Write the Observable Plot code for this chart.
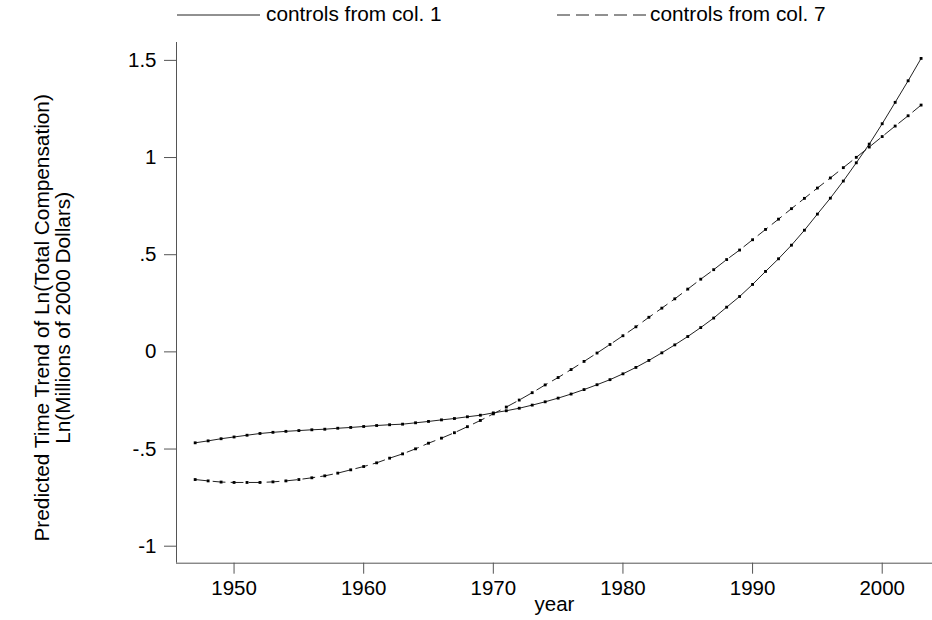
<!DOCTYPE html>
<html><head><meta charset="utf-8">
<script src="https://cdn.jsdelivr.net/npm/d3@7"></script>
<script src="https://cdn.jsdelivr.net/npm/@observablehq/plot@0.6"></script>
<style>
body{margin:0;background:#fff;font-family:"Liberation Sans",Arial,Helvetica,sans-serif;}
#legend{width:932px;height:36px;display:block}
#chart svg{display:block}
</style></head><body>
<div id="legend"></div>
<div id="chart"></div>
<script>
const years = [1947,1948,1949,1950,1951,1952,1953,1954,1955,1956,1957,1958,1959,1960,1961,1962,1963,1964,1965,1966,1967,1968,1969,1970,1971,1972,1973,1974,1975,1976,1977,1978,1979,1980,1981,1982,1983,1984,1985,1986,1987,1988,1989,1990,1991,1992,1993,1994,1995,1996,1997,1998,1999,2000,2001,2002,2003];
const col1 = [-0.468,-0.458,-0.447,-0.438,-0.429,-0.420,-0.414,-0.409,-0.405,-0.401,-0.398,-0.393,-0.389,-0.384,-0.379,-0.375,-0.372,-0.365,-0.358,-0.350,-0.343,-0.334,-0.326,-0.314,-0.303,-0.290,-0.274,-0.257,-0.238,-0.217,-0.194,-0.169,-0.143,-0.113,-0.080,-0.044,-0.005,0.036,0.079,0.125,0.174,0.230,0.285,0.347,0.414,0.479,0.549,0.626,0.709,0.791,0.879,0.973,1.069,1.174,1.284,1.395,1.510];
const col7 = [-0.657,-0.664,-0.670,-0.672,-0.672,-0.672,-0.669,-0.664,-0.657,-0.648,-0.638,-0.624,-0.607,-0.590,-0.571,-0.547,-0.525,-0.499,-0.470,-0.444,-0.416,-0.385,-0.353,-0.319,-0.284,-0.248,-0.210,-0.170,-0.132,-0.091,-0.049,-0.006,0.038,0.083,0.129,0.178,0.225,0.273,0.323,0.374,0.423,0.475,0.524,0.577,0.630,0.683,0.737,0.790,0.843,0.895,0.948,1.001,1.054,1.108,1.162,1.215,1.270];
const seriesNames = ["controls from col. 1", "controls from col. 7"];
const xTicks = [1950,1960,1970,1980,1990,2000];
const yTicks = [-1,-0.5,0,0.5,1,1.5];
const yTickLabels = ["-1","-.5","0",".5","1","1.5"];
const yTitle = "Predicted Time Trend of Ln(Total Compensation)\nLn(Millions of 2000 Dollars)";
const xTitle = "year";

const rows1 = years.map((yr,i)=>({year:yr, value:col1[i], series:seriesNames[0]}));
const rows7 = years.map((yr,i)=>({year:yr, value:col7[i], series:seriesNames[1]}));

const xDomain = [1945.56, 2003.88];
const yDomain = [-1.0875, 1.592];
const font = '"Liberation Sans", Arial, Helvetica, sans-serif';
const lineColor = "#222";
const axisColor = "#555";
const dash = "12,6";

// legend (HTML/SVG above the plot)
const ns = "http://www.w3.org/2000/svg";
const lg = document.createElementNS(ns,"svg");
lg.setAttribute("width","932"); lg.setAttribute("height","36");
lg.style.fontFamily = font; lg.style.fontSize = "20.8px";
const items = [
  {x1:177, x2:260, tx:266, dash:null, label:seriesNames[0]},
  {x1:557, x2:646, tx:650, dash:"13,6", label:seriesNames[1]}
];
for (const it of items) {
  const l = document.createElementNS(ns,"line");
  l.setAttribute("x1",it.x1); l.setAttribute("x2",it.x2);
  l.setAttribute("y1",15); l.setAttribute("y2",15);
  l.setAttribute("stroke",lineColor); l.setAttribute("stroke-width","1");
  if (it.dash) l.setAttribute("stroke-dasharray",it.dash);
  lg.appendChild(l);
  const t = document.createElementNS(ns,"text");
  t.setAttribute("x",it.tx); t.setAttribute("y",21);
  t.setAttribute("fill","#000");
  t.textContent = it.label;
  lg.appendChild(t);
}
document.getElementById("legend").appendChild(lg);

const chart = Plot.plot({
  width: 932, height: 584,
  marginLeft: 176, marginRight: 0, marginTop: 6, marginBottom: 57.3,
  style: {fontFamily: font, fontSize: "20px", color: "#000", background: "#fff", overflow: "visible"},
  x: {domain: xDomain},
  y: {domain: yDomain},
  marks: [
    Plot.axisY({ticks: yTicks, tickFormat: d => yTickLabels[yTicks.indexOf(d)], tickSize: 12, tickPadding: 8, stroke: axisColor, fill: "#000", label: null, fontSize: 20.5}),
    Plot.axisX({ticks: xTicks, tickFormat: d => String(d), tickSize: 11, tickPadding: 6, stroke: axisColor, fill: "#000", label: null, fontSize: 20.5}),
    Plot.ruleX([xDomain[0]], {stroke: axisColor}),
    Plot.ruleY([yDomain[0]], {stroke: axisColor}),
    Plot.line(rows1, {x: "year", y: "value", stroke: lineColor, strokeWidth: 1}),
    Plot.line(rows7, {x: "year", y: "value", stroke: lineColor, strokeWidth: 1, strokeDasharray: dash}),
    Plot.dot(rows1.concat(rows7), {x: "year", y: "value", symbol: "square", r: 1.6, fill: "#000", stroke: null}),
    Plot.text([yTitle], {text: d => d, frameAnchor: "left", textAnchor: "middle", rotate: -90, dx: -124, dy: 15, lineHeight: 1.05, fontSize: 20.8, fill: "#000"}),
    Plot.text([xTitle], {text: d => d, frameAnchor: "bottom", dy: 41, lineAnchor: "middle", fontSize: 20.5, fill: "#000"})
  ]
});
document.getElementById("chart").appendChild(chart);
</script>
</body></html>
